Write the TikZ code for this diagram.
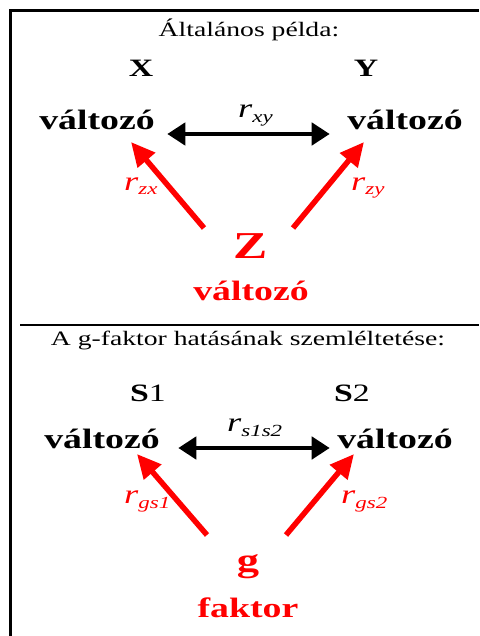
\documentclass[tikz,border=0pt]{standalone}
\usepackage{fontspec}
\setmainfont{Liberation Serif}[FakeStretch=1.35]
\usetikzlibrary{arrows.meta}

\newcommand{\coefr}[1]{r\raisebox{-5pt}{\fontsize{17}{17}\selectfont #1}}

\begin{document}
\begin{tikzpicture}[x=1pt, y=-1pt,
        heading/.style={anchor=base, font=\fontsize{20.5}{24}\selectfont},
        varname/.style={anchor=base, font=\fontsize{28}{32}\selectfont\bfseries},
        letter/.style={anchor=base, font=\fontsize{25}{28}\selectfont\bfseries},
        coef/.style={anchor=base west, inner sep=0pt, font=\fontsize{27}{30}\selectfont\itshape},
        corr/.style={{Triangle[length=18pt,width=22pt]}-{Triangle[length=18pt,width=22pt]}, line width=4.5pt},
        cause/.style={-{Triangle[length=24pt,width=22pt]}, line width=5.5pt, red}
    ]
        \useasboundingbox (0,0) rectangle (479,636);

        % frame and divider
        \draw[line width=3pt] (10.5,636) -- (10.5,10.5) -- (479,10.5);
        \draw[line width=2pt] (20,325) -- (479,325);

        % general example
        \node[heading] (title1) at (249,37) {Általános példa:};
        \node[letter] (xlab) at (141,77) {X};
        \node[letter] (ylab) at (366,77) {Y};
        \node[varname] (vx) at (97,130) {változó};
        \node[varname] (vy) at (405,130) {változó};
        \node[varname, red, font=\fontsize{38}{42}\selectfont\bfseries] (zlab) at (251,258) {Z};
        \node[varname, red] (vz) at (251,300) {változó};

        \coordinate (zx-s) at (204,228);
        \coordinate (zx-e) at (131,142);
        \coordinate (zy-s) at (293,228);
        \coordinate (zy-e) at (364,142);

        \draw[corr, shorten <=9pt, shorten >=14pt] ([yshift=-4pt]vx.base east) -- ([yshift=-4pt]vy.base west);
        \draw[cause] (zx-s) -- (zx-e);
        \draw[cause] (zy-s) -- (zy-e);

        \node[coef] (rxy) at (238,118) {\coefr{xy}};
        \node[coef, red] (rzx) at (124,190) {\coefr{zx}};
        \node[coef, red] (rzy) at (351,190) {\coefr{zy}};

        % g-factor
        \node[heading] (title2) at (248,345) {A g-faktor hatásának szemléltetése:};
        \node[letter] (s1lab) at (148,401) {S\textmd{1}};
        \node[letter] (s2lab) at (352,401) {S\textmd{2}};
        \node[varname] (vs1) at (102,448) {változó};
        \node[varname] (vs2) at (395,448) {változó};
        \node[varname, red, font=\fontsize{33}{36}\selectfont\bfseries] (glab) at (248,571) {g};
        \node[varname, red] (vfak) at (248,617) {faktor};

        \coordinate (gs1-s) at (207,535);
        \coordinate (gs1-e) at (137,454);
        \coordinate (gs2-s) at (286,535);
        \coordinate (gs2-e) at (354,454);

        \draw[corr, shorten <=15pt, shorten >=4pt] (vs1.base east) -- (vs2.base west);
        \draw[cause] (gs1-s) -- (gs1-e);
        \draw[cause] (gs2-s) -- (gs2-e);

        \node[coef] (rs1s2) at (227,431) {\coefr{s1s2}};
        \node[coef, red] (rgs1) at (124,503) {\coefr{gs1}};
        \node[coef, red] (rgs2) at (341,503) {\coefr{gs2}};
    \end{tikzpicture}
\end{document}
